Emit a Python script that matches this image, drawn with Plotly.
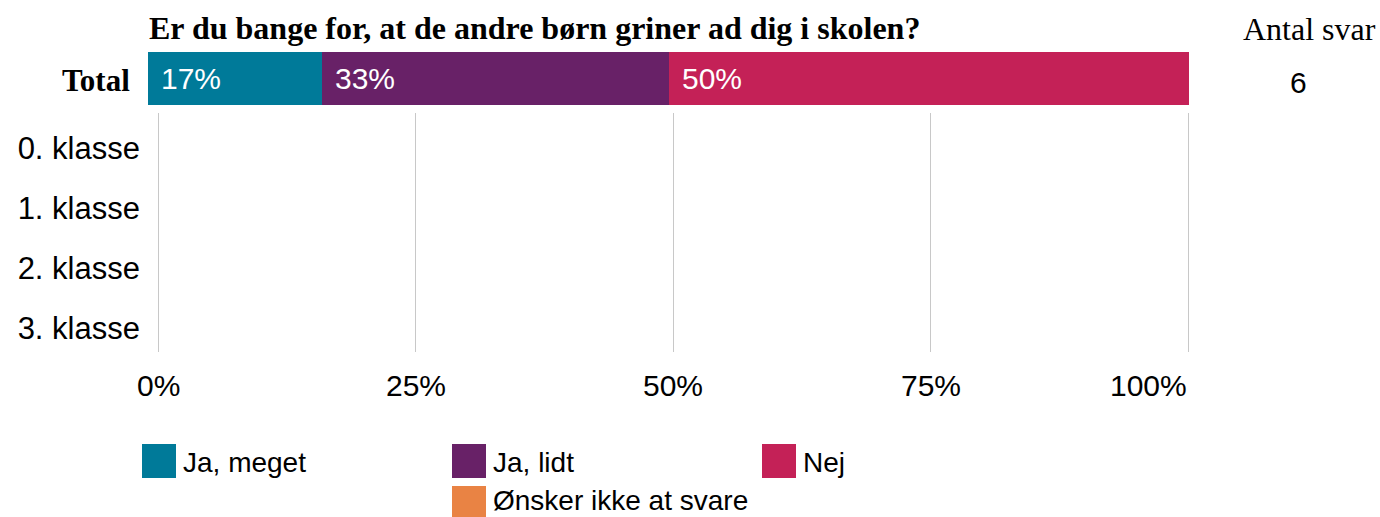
import plotly.graph_objects as go

W, H = 1380, 517

# ---- data ----
title = "Er du bange for, at de andre børn griner ad dig i skolen?"
answer_labels = ["Ja, meget", "Ja, lidt", "Nej", "Ønsker ikke at svare"]
answer_colors = ["#007A99", "#682167", "#C42157", "#E98344"]
total_label = "Total"
total_values = [16.67, 33.33, 50.0, 0.0]
total_text = ["17%", "33%", "50%", ""]
total_n = 6
n_header = "Antal svar"
classes = ["0. klasse", "1. klasse", "2. klasse", "3. klasse"]
class_ja_meget = [None, None, None, None]
class_ja_lidt = [None, None, None, None]
class_nej = [None, None, None, None]
class_oensker = [None, None, None, None]
class_series = [class_ja_meget, class_ja_lidt, class_nej, class_oensker]
x_tickvals = [0, 25, 50, 75, 100]
x_ticktext = ["0%", "25%", "50%", "75%", "100%"]

SANS = "Liberation Sans, Arial, sans-serif"
SERIF = "Liberation Serif, Times New Roman, serif"


def px_x(p):
    return p / W


def px_y(p):
    return 1 - p / H


fig = go.Figure()

# main (empty) class rows
for lab, col, vals in zip(answer_labels, answer_colors, class_series):
    fig.add_trace(go.Bar(
        x=vals, y=classes, orientation="h", name=lab,
        marker=dict(color=col), showlegend=False,
        xaxis="x", yaxis="y", hoverinfo="skip",
    ))

# total bar
for lab, col, v, t in zip(answer_labels, answer_colors, total_values, total_text):
    fig.add_trace(go.Bar(
        x=[v], y=[total_label], orientation="h", name=lab,
        marker=dict(color=col, line=dict(width=0)), showlegend=False,
        xaxis="x2", yaxis="y2",
    ))

annotations = []
# percentage labels inside total bar
cum = 0.0
for v, t in zip(total_values, total_text):
    if t:
        annotations.append(dict(
            x=cum, y=0, xref="x2", yref="y2", text=t, showarrow=False,
            xanchor="left", yanchor="middle", xshift=11,
            font=dict(family=SANS, size=30, color="white"),
        ))
    cum += v

# x tick labels (last one kept inside the plot, right-aligned)
for i, (tv, tt) in enumerate(zip(x_tickvals, x_ticktext)):
    last = i == len(x_tickvals) - 1
    annotations.append(dict(
        x=tv, y=px_y(385), xref="x", yref="paper", text=tt, showarrow=False,
        xanchor="right" if last else "center", yanchor="middle",
        xshift=1 if last else 0,
        font=dict(family=SANS, size=30, color="black"),
    ))

# title
annotations.append(dict(
    x=px_x(147), y=px_y(28), xref="paper", yref="paper", text="<b>" + title + "</b>",
    showarrow=False, xanchor="left", yanchor="middle",
    font=dict(family=SERIF, size=32, color="black"),
))
# Total row label
annotations.append(dict(
    x=px_x(132), y=px_y(80), xref="paper", yref="paper", text="<b>" + total_label + "</b>",
    showarrow=False, xanchor="right", yanchor="middle",
    font=dict(family=SERIF, size=31, color="black"),
))
# N header and value
annotations.append(dict(
    x=px_x(1309), y=px_y(29), xref="paper", yref="paper", text=n_header,
    showarrow=False, xanchor="center", yanchor="middle",
    font=dict(family=SERIF, size=32, color="black"),
))
annotations.append(dict(
    x=px_x(1298), y=px_y(82), xref="paper", yref="paper", text=str(total_n),
    showarrow=False, xanchor="center", yanchor="middle",
    font=dict(family=SANS, size=30, color="black"),
))

# custom legend
shapes = []
legend_pos = [(142, 444), (452, 444), (762, 444), (452, 486)]
text_dy = [18, 18, 18, 14]
sw = 34
for lab, col, (lx, ly), dy in zip(answer_labels, answer_colors, legend_pos, text_dy):
    shapes.append(dict(
        type="rect", xref="paper", yref="paper",
        x0=px_x(lx), x1=px_x(lx + sw), y0=px_y(ly + sw), y1=px_y(ly),
        fillcolor=col, line=dict(width=0),
    ))
    annotations.append(dict(
        x=px_x(lx + sw + 5), y=px_y(ly + dy), xref="paper", yref="paper", text=lab,
        showarrow=False, xanchor="left", yanchor="middle",
        font=dict(family=SANS, size=28, color="black"),
    ))

# main x axis: 0 at px 158, 100 at px 1188; tiny pad so edge gridlines are drawn
pad = 0.1
ppu = (1188 - 158) / 100.0

fig.update_layout(
    width=W, height=H,
    margin=dict(l=0, r=0, t=0, b=0, autoexpand=False),
    paper_bgcolor="white", plot_bgcolor="white",
    barmode="stack", bargap=0,
    showlegend=False,
    xaxis=dict(
        domain=[px_x(158 - pad * ppu), px_x(1188 + pad * ppu)],
        range=[-pad, 100 + pad], anchor="y",
        tickvals=x_tickvals, ticktext=x_ticktext, showticklabels=False,
        showgrid=True, gridcolor="#C8C8C8", gridwidth=1,
        zeroline=False, showline=False, ticks="",
        fixedrange=True, automargin=False,
    ),
    yaxis=dict(
        domain=[px_y(352), px_y(113)], anchor="x",
        type="category", categoryorder="array", categoryarray=classes,
        range=[3.4, -0.583],
        showgrid=False, zeroline=False, showline=False, ticks="",
        tickfont=dict(family=SANS, size=31, color="black"),
        ticklabelstandoff=16, fixedrange=True, automargin=False,
    ),
    xaxis2=dict(
        domain=[px_x(148), px_x(1189)], range=[0, 100], anchor="y2",
        visible=False, fixedrange=True, automargin=False,
    ),
    yaxis2=dict(
        domain=[px_y(105), px_y(52)], range=[-0.5, 0.5], anchor="x2",
        type="category", visible=False, fixedrange=True, automargin=False,
    ),
    annotations=annotations,
    shapes=shapes,
)

fig.write_html(
    "out.html",
    config={"displayModeBar": False},
    post_script="document.body.style.margin='0';document.body.style.padding='0';document.body.style.overflow='hidden';",
)
